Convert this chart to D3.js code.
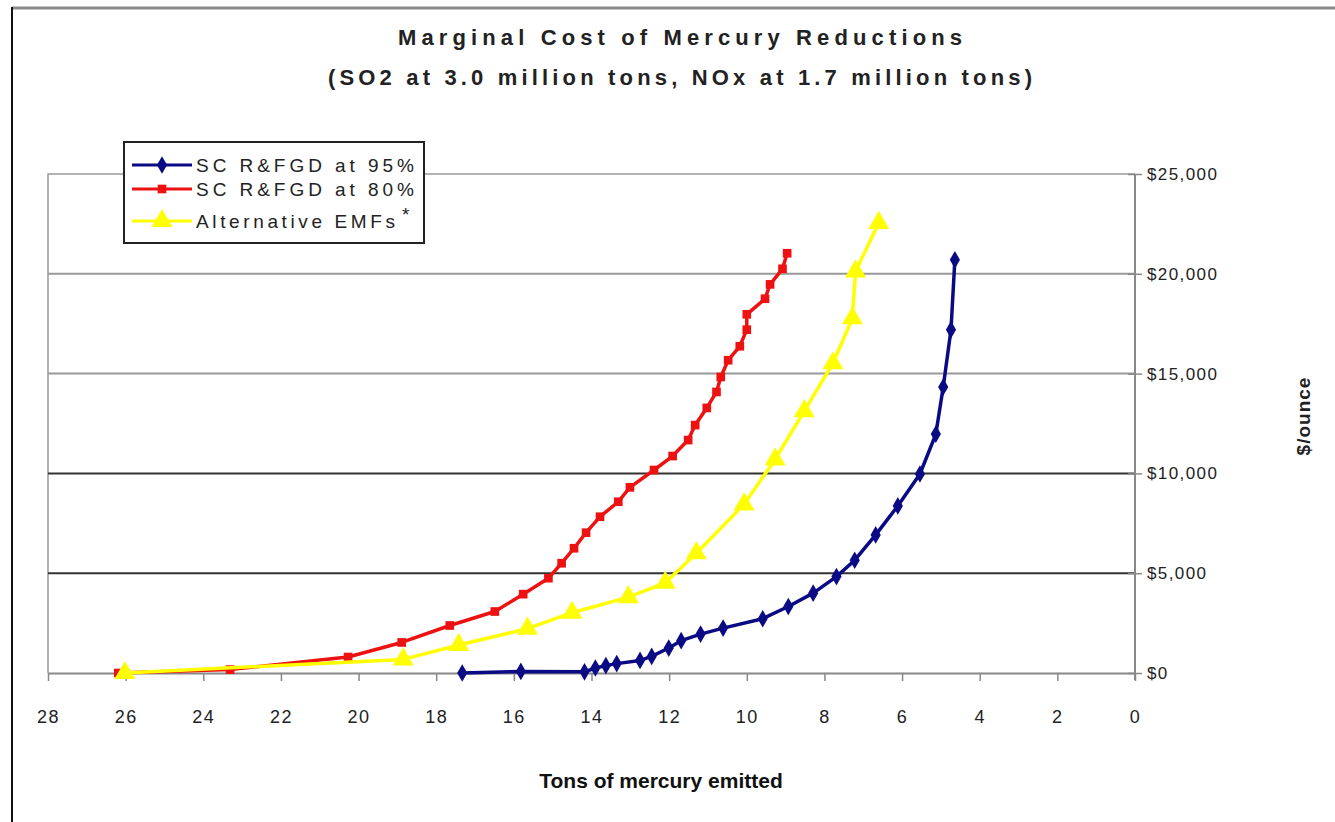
<!DOCTYPE html>
<html>
<head>
<meta charset="utf-8">
<script src="https://cdn.jsdelivr.net/npm/d3@7"></script>
<style>
  body { margin: 0; background: #fff; }
  svg { display: block; font-family: Arial, "Liberation Sans", sans-serif; }
</style>
</head>
<body>
<svg id="chart" width="1335" height="822"></svg>
<script>
// ------------------ DATA ------------------

// tons of mercury emitted / marginal cost ($/ounce)
let blueX = [17.33, 15.82, 14.18, 13.9, 13.63, 13.35, 12.75, 12.45, 12.01, 11.69, 11.19, 10.61, 9.59, 8.93, 8.29, 7.69, 7.22, 6.68, 6.11, 5.54, 5.13, 4.94, 4.74, 4.64];
let blueY = [0, 80, 60, 250, 370, 470, 630, 830, 1250, 1620, 1950, 2250, 2720, 3330, 4000, 4830, 5650, 6920, 8370, 9970, 11970, 14330, 17200, 20700];

let redX = [26.19, 23.31, 20.27, 18.89, 17.65, 16.49, 15.76, 15.11, 14.77, 14.45, 14.14, 13.78, 13.31, 13.01, 12.39, 11.91, 11.51, 11.33, 11.03, 10.78, 10.67, 10.48, 10.18, 10.0, 10.0, 9.53, 9.4, 9.08, 8.96];
let redY = [0, 170, 800, 1530, 2380, 3080, 3950, 4750, 5500, 6250, 7030, 7830, 8580, 9300, 10170, 10870, 11670, 12420, 13280, 14080, 14830, 15670, 16370, 17200, 17970, 18750, 19470, 20250, 21030];

let yelX = [26.02, 18.85, 17.42, 15.65, 14.5, 13.05, 12.1, 11.3, 10.07, 9.27, 8.52, 7.78, 7.28, 7.2, 6.6];
let yelY = [0, 680, 1400, 2220, 3020, 3800, 4520, 6000, 8450, 10700, 13120, 15520, 17770, 20120, 22550];

let seriesNames = ["SC R&FGD at 95%", "SC R&FGD at 80%", "Alternative EMFs"];
let xTicks = [28, 26, 24, 22, 20, 18, 16, 14, 12, 10, 8, 6, 4, 2, 0];
let yTicks = [0, 5000, 10000, 15000, 20000, 25000];

// ------------------ SETUP ------------------

let svg = d3.select("#chart");
let plotLeft = 48, plotRight = 1135, plotTop = 174, plotBottom = 673;

let x = d3.scaleLinear().domain([28, 0]).range([plotLeft, plotRight]);
let y = d3.scaleLinear().domain([0, 25000]).range([plotBottom, plotTop]);

// outer frame
svg.append("line").attr("x1", 12).attr("x2", 1335).attr("y1", 8).attr("y2", 8)
    .attr("stroke", "#8a8a8a").attr("stroke-width", 3);
svg.append("line").attr("x1", 12).attr("x2", 12).attr("y1", 7).attr("y2", 822)
    .attr("stroke", "#111").attr("stroke-width", 2);

// title
svg.append("text").attr("x", 680).attr("y", 45).attr("text-anchor", "middle")
    .attr("font-size", 22).attr("font-weight", "bold").attr("fill", "#222")
    .attr("textLength", 564).attr("lengthAdjust", "spacing")
    .text("Marginal Cost of Mercury Reductions");
svg.append("text").attr("x", 680).attr("y", 85).attr("text-anchor", "middle")
    .attr("font-size", 22).attr("font-weight", "bold").attr("fill", "#222")
    .attr("textLength", 704).attr("lengthAdjust", "spacing")
    .text("(SO2 at 3.0 million tons, NOx at 1.7 million tons)");

// plot area border (left + top)
svg.append("path")
    .attr("d", `M${plotLeft},${plotBottom}V${plotTop}H${plotRight}`)
    .attr("fill", "none").attr("stroke", "#999").attr("stroke-width", 1.5);

// gridlines
svg.append("g")
    .selectAll("line")
    .data(yTicks.filter(d => d > 0 && d < 25000))
    .enter().append("line")
    .attr("x1", plotLeft).attr("x2", plotRight)
    .attr("y1", d => y(d)).attr("y2", d => y(d))
    .attr("stroke", d => d <= 10000 ? "#333" : "#999")
    .attr("stroke-width", 2);

// x axis
let xAxis = svg.append("g")
    .attr("transform", `translate(0,${plotBottom})`)
    .call(d3.axisBottom(x).tickValues(xTicks).tickSize(8).tickPadding(29).tickSizeOuter(0));
xAxis.select(".domain").attr("stroke", "#888").attr("stroke-width", 2);
xAxis.selectAll(".tick line").attr("stroke", "#888").attr("stroke-width", 1.5);
xAxis.selectAll(".tick text")
    .attr("font-size", 18).attr("fill", "#222").attr("letter-spacing", 1.5)
    .attr("font-family", "Arial, 'Liberation Sans', sans-serif");

// y axis on the right
let yAxis = svg.append("g")
    .attr("transform", `translate(${plotRight},0)`)
    .call(d3.axisRight(y).tickValues(yTicks).tickSize(7).tickPadding(5).tickSizeOuter(0)
        .tickFormat(d => "$" + d3.format(",")(d)));
yAxis.select(".domain").attr("stroke", "#888").attr("stroke-width", 2)
    .attr("d", `M0,${plotTop}V${plotBottom + 7}`);
yAxis.selectAll(".tick line").attr("x1", -7).attr("stroke", "#888").attr("stroke-width", 1.5);
yAxis.selectAll(".tick text")
    .attr("font-size", 17).attr("fill", "#222").attr("letter-spacing", 1.4)
    .attr("font-family", "Arial, 'Liberation Sans', sans-serif");

// axis titles
svg.append("text").attr("x", 661).attr("y", 788).attr("text-anchor", "middle")
    .attr("font-size", 21).attr("font-weight", "bold").attr("fill", "#111")
    .text("Tons of mercury emitted");
svg.append("text")
    .attr("transform", "translate(1310,416) rotate(-90)")
    .attr("text-anchor", "middle")
    .attr("font-size", 19).attr("font-weight", "bold").attr("fill", "#222")
    .attr("letter-spacing", 1)
    .text("$/ounce");

// ------------------ SERIES ------------------

let series = [
    { name: seriesNames[0], xs: blueX, ys: blueY, color: "#0a0a84", symbol: d3.symbolDiamond, size: 90 },
    { name: seriesNames[1], xs: redX, ys: redY, color: "#ee1111", symbol: d3.symbolSquare, size: 75 },
    { name: seriesNames[2], xs: yelX, ys: yelY, color: "#ffff00", symbol: d3.symbolTriangle, size: 190 }
];

let line = d3.line().x(d => x(d[0])).y(d => y(d[1]));

series.forEach(s => {
    let pts = s.xs.map((v, i) => [v, s.ys[i]]);
    svg.append("path")
        .datum(pts)
        .attr("d", line)
        .attr("fill", "none")
        .attr("stroke", s.color)
        .attr("stroke-width", 3.5)
        .attr("stroke-linejoin", "round");
    svg.append("g")
        .selectAll("path")
        .data(pts)
        .enter().append("path")
        .attr("transform", d => `translate(${x(d[0])},${y(d[1])})`)
        .attr("d", d3.symbol().type(s.symbol).size(s.size))
        .attr("fill", s.color);
});

// ------------------ LEGEND ------------------

let legend = svg.append("g");
legend.append("rect")
    .attr("x", 124).attr("y", 142).attr("width", 300).attr("height", 101)
    .attr("fill", "#fff").attr("stroke", "#222").attr("stroke-width", 2);

let legendY = [165, 189, 221];
let legendLen = [218, 218, 199];
series.forEach((s, i) => {
    let ly = legendY[i];
    legend.append("line")
        .attr("x1", 132).attr("x2", 192).attr("y1", ly).attr("y2", ly)
        .attr("stroke", s.color).attr("stroke-width", 3);
    legend.append("path")
        .attr("transform", `translate(162,${ly})`)
        .attr("d", d3.symbol().type(s.symbol).size(s.size))
        .attr("fill", s.color);
    legend.append("text")
        .attr("x", 196).attr("y", ly + 7)
        .attr("font-size", 19).attr("fill", "#222")
        .attr("textLength", legendLen[i]).attr("lengthAdjust", "spacing")
        .text(s.name);
});
legend.append("text")
    .attr("x", 402).attr("y", 221)
    .attr("font-size", 19).attr("fill", "#222")
    .text("*");
</script>
</body>
</html>
